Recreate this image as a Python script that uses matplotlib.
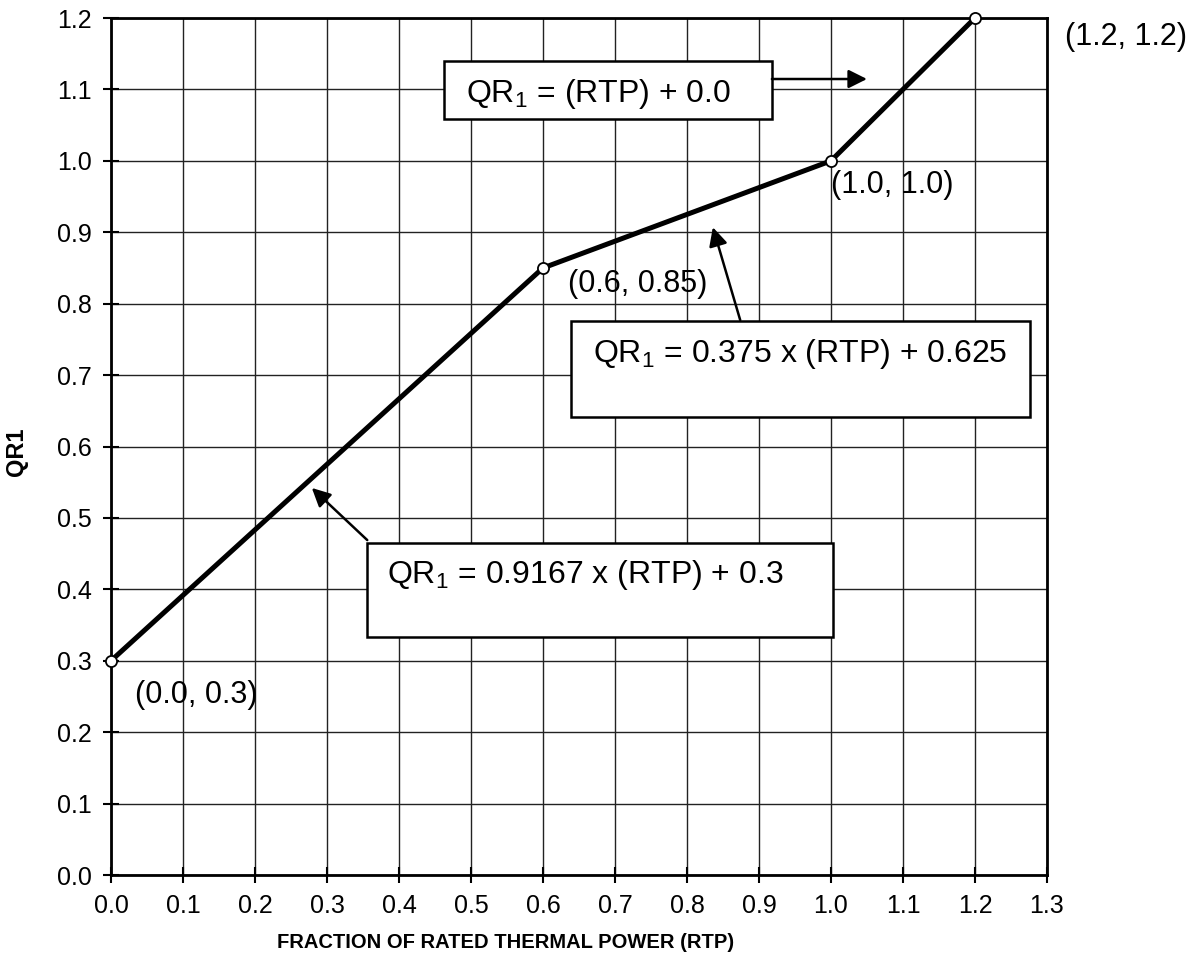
import matplotlib
matplotlib.use("Agg")
import matplotlib.pyplot as plt
from matplotlib.patches import Rectangle

plt.rcParams.update({
    'font.family': ['Liberation Sans', 'DejaVu Sans'],
    'mathtext.fontset': 'custom',
    'mathtext.rm': 'Liberation Sans',
    'mathtext.it': 'Liberation Sans',
})

# data
rtp = [0.0, 0.6, 1.0, 1.2]
qr1 = [0.3, 0.85, 1.0, 1.2]
point_labels = ['(0.0, 0.3)', '(0.6, 0.85)', '(1.0, 1.0)', '(1.2, 1.2)']
x_ticks = [round(v * 0.1, 1) for v in range(14)]
y_ticks = [round(v * 0.1, 1) for v in range(13)]
equations = [
    r'QR$_1$ = (RTP) + 0.0',
    r'QR$_1$ = 0.375 x (RTP) + 0.625',
    r'QR$_1$ = 0.9167 x (RTP) + 0.3',
]

fig = plt.figure(figsize=(12.02, 9.74), dpi=100)
ax = fig.add_axes([0.0923, 0.1016, 0.7787, 0.8799])

ax.set_xlim(0, 1.3)
ax.set_ylim(0, 1.2)
ax.set_xticks(x_ticks)
ax.set_yticks(y_ticks)
ax.set_xticklabels([f'{v:.1f}' for v in x_ticks])
ax.set_yticklabels([f'{v:.1f}' for v in y_ticks])
ax.tick_params(direction='inout', length=11, width=1.5, labelsize=18, pad=8, colors='black')
ax.grid(True, color='#222222', linewidth=1.0)
ax.set_axisbelow(True)
for s in ax.spines.values():
    s.set_linewidth(2.0)

ax.plot(rtp, qr1, color='black', lw=3.6, marker='o', markersize=8,
        markerfacecolor='white', markeredgecolor='black', markeredgewidth=1.3,
        clip_on=False, zorder=4)

# point labels
label_pos = [(0.033, 0.252), (0.635, 0.827), (1.0, 0.966), (1.325, 1.174)]
for (lx, ly), txt in zip(label_pos, point_labels):
    ax.text(lx, ly, txt, fontsize=22, ha='left', va='center', clip_on=False, zorder=5)

# equation boxes (x0, y0, x1, y1) in data units
boxes = [(0.4625, 1.0585, 0.918, 1.140),
         (0.639, 0.641, 1.276, 0.7757),
         (0.3556, 0.3332, 1.0028, 0.4649)]
text_pos = [(0.493, 1.0823), (0.669, 0.7183), (0.383, 0.4088)]
for (x0, y0, x1, y1), (tx, ty), eq in zip(boxes, text_pos, equations):
    ax.add_patch(Rectangle((x0, y0), x1 - x0, y1 - y0, facecolor='white',
                           edgecolor='black', lw=1.8, zorder=5))
    ax.text(tx, ty, eq, fontsize=23, ha='left', va='baseline', zorder=6)

# arrows (tail -> head)
arrows = [((0.918, 1.1146), (1.05, 1.1146)),
          ((0.874, 0.777), (0.836, 0.907)),
          ((0.356, 0.469), (0.279, 0.542))]
for tail, head in arrows:
    ax.annotate('', xy=head, xytext=tail,
                arrowprops=dict(arrowstyle='-|>', color='black', lw=1.8,
                                mutation_scale=28, shrinkA=0, shrinkB=0),
                zorder=6)

fig.text(0.421, 0.032, 'FRACTION OF RATED THERMAL POWER (RTP)', fontsize=14.5,
         fontweight='bold', ha='center', va='center')
fig.text(0.014, 0.536, 'QR1', fontsize=17, fontweight='bold', rotation=90,
         ha='center', va='center')

fig.savefig('out.png', dpi=100)
